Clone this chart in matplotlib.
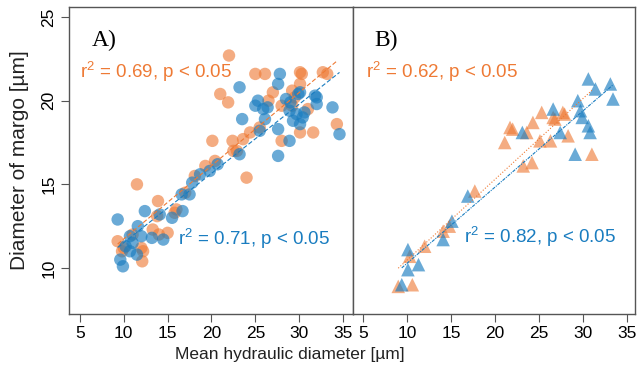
import numpy as np
import matplotlib
matplotlib.use("Agg")
import matplotlib.pyplot as plt

plt.rcParams['font.family'] = ['Liberation Sans', 'DejaVu Sans']
plt.rcParams['mathtext.fontset'] = 'custom'
plt.rcParams['mathtext.rm'] = 'Liberation Sans'

# =============================================================================
# Datos (diametro hidraulico medio vs diametro del margo)
# =============================================================================
# Panel A - naranja
a_or_x = [22.0, 25.0, 26.1, 21.0, 21.9, 30.3, 33.2, 30.1, 27.0, 29.2, 34.3, 31.6,
          30.1, 28.0, 23.6, 22.4, 20.1, 24.4, 24.0, 22.9, 19.3, 29.2, 32.7, 30.1,
          11.5, 13.9, 13.8, 15.0, 9.3, 9.8, 12.1, 13.3, 12.2, 15.8, 18.1, 20.4,
          10.0, 12.0, 14.0, 16.0, 17.0, 22.5, 25.5, 28.0, 29.5, 26.5, 31.0, 11.0]
a_or_y = [22.7, 21.6, 21.6, 20.4, 19.9, 21.6, 21.6, 21.0, 20.5, 20.6, 18.6, 18.1,
          18.1, 17.6, 17.7, 17.6, 17.6, 18.1, 15.4, 17.0, 16.1, 19.7, 21.7, 21.7,
          15.0, 14.0, 13.1, 12.1, 11.6, 11.0, 10.4, 12.3, 11.0, 13.3, 15.5, 16.4,
          11.2, 11.2, 12.0, 13.5, 14.5, 17.0, 18.4, 19.7, 20.2, 20.0, 19.5, 12.0]

# Panel A - azul
a_bl_x = [9.9, 9.6, 9.3, 10.7, 11.0, 11.5, 10.7, 11.6, 12.4, 13.2, 14.5, 14.1,
          15.5, 16.7, 16.6, 17.5, 17.8, 18.7, 19.8, 20.7, 23.2, 25.5, 26.1, 27.6,
          23.5, 25.0, 25.9, 23.2, 27.8, 27.6, 29.9, 31.8, 32.0, 33.8, 34.6, 28.9,
          29.7, 30.4, 29.3, 28.9, 27.6, 30.1, 30.6, 26.4, 25.3, 30.1, 32.0, 10.2,
          12.0, 28.5, 29.0]
a_bl_y = [10.1, 10.5, 12.9, 11.9, 11.5, 10.8, 11.0, 12.5, 13.4, 11.8, 11.7, 13.2,
          13.0, 13.4, 14.4, 14.4, 15.1, 15.6, 15.8, 16.2, 16.8, 18.2, 18.9, 18.3,
          18.9, 19.7, 19.5, 20.8, 21.6, 21.0, 20.4, 20.3, 19.8, 19.6, 18.0, 19.4,
          19.2, 19.0, 18.8, 17.6, 16.7, 18.6, 19.3, 19.6, 20.0, 20.5, 20.2, 11.3,
          11.9, 20.1, 19.9]

# Panel B - naranja
b_or_x = [21.1, 22.0, 24.3, 25.3, 26.6, 27.7, 25.1, 26.3, 28.3, 31.0, 23.2, 24.2,
          17.7, 14.1, 12.0, 10.3, 10.6, 9.0, 21.7, 23.6, 26.8, 27.9, 14.8]
b_or_y = [17.5, 18.3, 18.7, 19.3, 19.0, 19.3, 17.6, 17.6, 17.9, 16.8, 16.1, 16.3,
          14.6, 12.2, 11.3, 10.7, 9.0, 8.9, 18.4, 18.1, 18.9, 19.2, 12.5]

# Panel B - azul
b_bl_x = [30.6, 33.1, 31.4, 33.4, 29.4, 26.6, 29.7, 29.9, 30.6, 30.8, 23.1, 27.4,
          29.1, 16.9, 15.1, 14.1, 10.1, 11.3, 10.1, 9.4]
b_bl_y = [21.3, 21.0, 20.7, 20.1, 20.0, 19.5, 19.4, 19.0, 18.5, 18.1, 18.1, 18.1,
          16.8, 14.3, 12.8, 11.7, 11.1, 10.2, 9.9, 9.0]

xticks = [5, 10, 15, 20, 25, 30, 35]
yticks = [10, 15, 20, 25]

naranja = '#EE7A35'
azul = '#1A7DC0'
gris = '#555555'

fig = plt.figure(figsize=(6.37, 3.75), dpi=100)
ax1 = fig.add_axes([69/637, 1-314/375, (353-69)/637, (314-7)/375])
ax2 = fig.add_axes([353/637, 1-314/375, (635-353)/637, (314-7)/375])


def recta(ax, x, y, color, ls):
    z = np.polyfit(x, y, 1)
    xs = np.array([min(x), max(x)])
    ax.plot(xs, np.polyval(z, xs), color=color, ls=ls, lw=0.8, zorder=3)


# Panel A
ax1.scatter(a_or_x, a_or_y, s=80, color=naranja, alpha=0.62, edgecolors='none', zorder=2)
ax1.scatter(a_bl_x, a_bl_y, s=80, color=azul, alpha=0.65, edgecolors='none', zorder=2)
recta(ax1, a_or_x, a_or_y, naranja, (0, (4, 2)))
recta(ax1, a_bl_x, a_bl_y, azul, (0, (4, 2)))

# Panel B
ax2.scatter(b_or_x, b_or_y, s=95, marker='^', color=naranja, alpha=0.62, edgecolors='none', zorder=2)
ax2.scatter(b_bl_x, b_bl_y, s=95, marker='^', color=azul, alpha=0.65, edgecolors='none', zorder=2)
recta(ax2, b_or_x, b_or_y, naranja, ':')
recta(ax2, b_bl_x, b_bl_y, azul, (0, (3, 1, 1, 1)))

ax1.set_xlim(3.75, 36.14)
ax2.set_xlim(3.86, 35.9)
for ax in (ax1, ax2):
    ax.set_ylim(7.25, 25.6)
    ax.set_xticks(xticks)
    ax.set_xticklabels([str(v) for v in xticks], fontsize=12.5)
    ax.tick_params(axis='x', direction='out', length=6, color=gris, pad=3)
    for sp in ax.spines.values():
        sp.set_color(gris)
        sp.set_linewidth(1.0)

ax1.set_yticks(yticks)
ax1.set_yticklabels([str(v) for v in yticks], rotation=90, va='center', fontsize=12.5)
ax1.tick_params(axis='y', direction='out', length=6, color=gris, pad=3)
ax2.set_yticks([])

# Textos
ax1.text(0.08, 0.89, 'A)', transform=ax1.transAxes, fontsize=17,
         family='Liberation Serif', ha='left', va='center')
ax2.text(0.075, 0.89, 'B)', transform=ax2.transAxes, fontsize=17,
         family='Liberation Serif', ha='left', va='center')
ax1.text(0.04, 0.79, r'$\mathregular{r^2}$ = 0.69, p < 0.05', transform=ax1.transAxes,
         fontsize=13.5, color=naranja, ha='left', va='center')
ax1.text(0.385, 0.245, r'$\mathregular{r^2}$ = 0.71, p < 0.05', transform=ax1.transAxes,
         fontsize=13.5, color=azul, ha='left', va='center')
ax2.text(0.045, 0.79, r'$\mathregular{r^2}$ = 0.62, p < 0.05', transform=ax2.transAxes,
         fontsize=13.5, color=naranja, ha='left', va='center')
ax2.text(0.395, 0.25, r'$\mathregular{r^2}$ = 0.82, p < 0.05', transform=ax2.transAxes,
         fontsize=13.5, color=azul, ha='left', va='center')

fig.text(20/637, 1-160/375, 'Diameter of margo [µm]', rotation=90, fontsize=15,
         ha='center', va='center', color='#222222')
fig.text(290/637, 1-355/375, 'Mean hydraulic diameter [µm]', fontsize=12.5,
         ha='center', va='center', color='#222222')

fig.savefig('out.png', dpi=100)
